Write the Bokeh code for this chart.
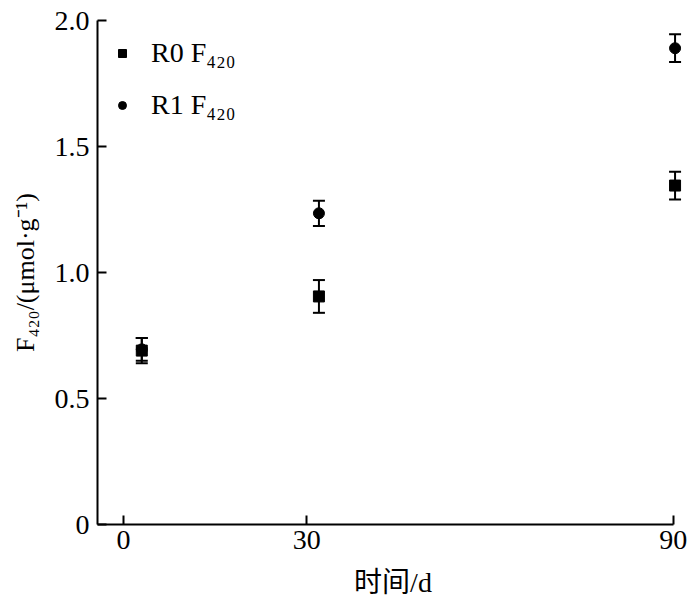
from bokeh.plotting import figure
from bokeh.models import ColumnDataSource, Whisker, TeeHead, Legend, LegendItem, FixedTicker, NumeralTickFormatter, Range1d
from bokeh.embed import file_html
from bokeh.resources import INLINE

# data
days_r0 = [3.0, 32.0, 90.3]
days_r1 = [3.0, 32.0, 90.3]
r0_mean = [0.69, 0.905, 1.345]
r0_err = [0.05, 0.065, 0.055]
r1_mean = [0.695, 1.235, 1.89]
r1_err = [0.045, 0.05, 0.055]
x_ticks = [0, 30, 90]
y_ticks = [0, 0.5, 1.0, 1.5, 2.0]

SERIF = "'Liberation Serif', 'Noto Sans CJK SC', serif"

p = figure(width=698, height=600, output_backend="svg", toolbar_location=None,
           x_range=Range1d(-4.25, 92.5), y_range=Range1d(0, 2.0),
           min_border_left=97, min_border_right=10, min_border_top=20, min_border_bottom=76)
p.outline_line_color = None
p.xgrid.visible = False
p.ygrid.visible = False
p.background_fill_color = "white"

src0 = ColumnDataSource(dict(x=days_r0, y=r0_mean,
                             lo=[m - e for m, e in zip(r0_mean, r0_err)],
                             hi=[m + e for m, e in zip(r0_mean, r0_err)]))
src1 = ColumnDataSource(dict(x=days_r1, y=r1_mean,
                             lo=[m - e for m, e in zip(r1_mean, r1_err)],
                             hi=[m + e for m, e in zip(r1_mean, r1_err)]))

for s in (src1, src0):
    w = Whisker(source=s, base="x", upper="hi", lower="lo", dimension="height",
                line_color="black", line_width=2,
                upper_head=TeeHead(size=12, line_width=2, line_color="black"),
                lower_head=TeeHead(size=12, line_width=2, line_color="black"))
    p.add_layout(w)

r1 = p.scatter("x", "y", source=src1, marker="circle", size=11, color="black")
r0 = p.scatter("x", "y", source=src0, marker="square", size=11, color="black")

legend = Legend(items=[LegendItem(label="R0 F\u2084\u2082\u2080", renderers=[r0]),
                       LegendItem(label="R1 F\u2084\u2082\u2080", renderers=[r1])],
                location="top_left", border_line_color=None, background_fill_alpha=0,
                margin=13, padding=0, glyph_width=24, glyph_height=20, label_height=40,
                spacing=12, label_standoff=17,
                label_text_font=SERIF, label_text_font_size="28px",
                label_text_color="black")
p.add_layout(legend)

for ax in (p.xaxis[0], p.yaxis[0]):
    ax.axis_line_width = 2
    ax.major_tick_line_width = 2
    ax.major_tick_in = 9
    ax.major_tick_out = 0
    ax.minor_tick_line_color = None
    ax.major_label_text_font = SERIF
    ax.major_label_text_font_size = "28px"
    ax.axis_label_text_font = SERIF
    ax.axis_label_text_font_style = "normal"
    ax.major_label_text_color = "black"
    ax.axis_label_text_color = "black"

p.xaxis.axis_label_text_font_size = "28px"
p.yaxis.axis_label_text_font_size = "26px"
p.xaxis.bounds = (-4.25, 90)
p.xaxis.ticker = FixedTicker(ticks=x_ticks)
p.yaxis.ticker = FixedTicker(ticks=y_ticks)
p.yaxis.formatter = NumeralTickFormatter(format="0.0")
p.yaxis.major_label_overrides = {0: "0"}
p.xaxis.major_label_standoff = 6
p.yaxis.major_label_standoff = 8
p.xaxis.axis_label = "时间/d"
p.yaxis.axis_label = "F\u2084\u2082\u2080/(μmol·g\u207b\u00b9)"
p.xaxis.axis_label_standoff = 15
p.yaxis.axis_label_standoff = 12

open("out.html", "w").write(file_html(p, INLINE))
